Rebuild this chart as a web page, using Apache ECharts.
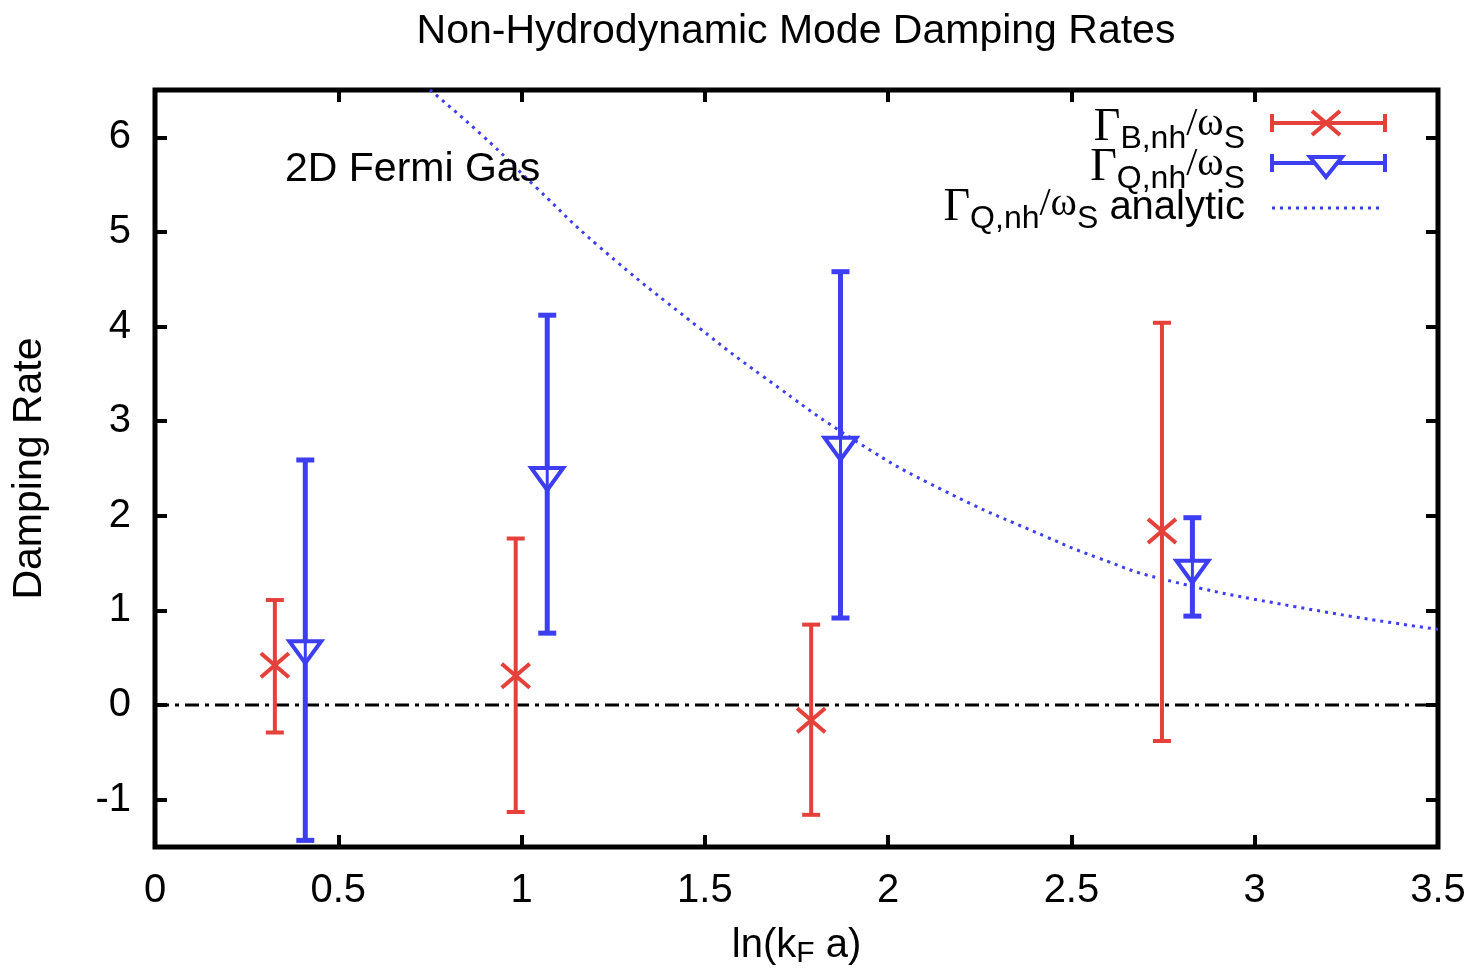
<!DOCTYPE html>
<html>
<head>
<meta charset="utf-8">
<title>Non-Hydrodynamic Mode Damping Rates</title>
<script src="https://cdn.jsdelivr.net/npm/echarts@6/dist/echarts.min.js"></script>
<style>
  html, body { margin: 0; padding: 0; background: #fff; }
  #main { width: 1478px; height: 975px; }
</style>
</head>
<body>
<div id="main"></div>
<script>
  // values: [x, y, yLow, yHigh]
  var gammaB = [
    [0.327, 0.42, -0.29, 1.11],
    [0.984, 0.31, -1.13, 1.76],
    [1.79, -0.16, -1.16, 0.85],
    [2.747, 1.84, -0.38, 4.04]
  ];
  var gammaQ = [
    [0.41, 0.58, -1.43, 2.59],
    [1.07, 2.41, 0.76, 4.12],
    [1.87, 2.73, 0.92, 4.58],
    [2.83, 1.43, 0.94, 1.98]
  ];
  // dotted analytic curve
  var analytic = [
    [0.75, 6.5], [0.89, 6.03], [1.04, 5.47], [1.21, 4.85], [1.48, 4.0],
    [1.66, 3.47], [1.92, 2.77], [2.15, 2.27], [2.43, 1.78], [2.57, 1.56],
    [2.74, 1.34], [3.11, 1.04], [3.5, 0.8]
  ];
  var zeroLine = [[0, 0], [3.5, 0]];
  var xTicks = [0, 0.5, 1, 1.5, 2, 2.5, 3, 3.5];
  var yTicks = [-1, 0, 1, 2, 3, 4, 5, 6];

  var RED = '#e6403b';
  var BLUE = '#3d3df2';
  var SANS = '"Liberation Sans", Arial, sans-serif';
  var SERIF = '"Liberation Serif", "Times New Roman", serif';

  function errorBars(color, marker) {
    return function (params, api) {
      var x = api.value(0);
      var p = api.coord([x, api.value(1)]);
      var lo = api.coord([x, api.value(2)]);
      var hi = api.coord([x, api.value(3)]);
      var st = { stroke: color, lineWidth: marker == 'tri' ? 5 : 4, fill: null };
      var cap = 9;
      var kids = [
        { type: 'line', shape: { x1: p[0], y1: hi[1], x2: p[0], y2: lo[1] }, style: st },
        { type: 'line', shape: { x1: p[0] - cap, y1: hi[1], x2: p[0] + cap, y2: hi[1] }, style: st },
        { type: 'line', shape: { x1: p[0] - cap, y1: lo[1], x2: p[0] + cap, y2: lo[1] }, style: st }
      ];
      if (marker == 'x') {
        var ms = { stroke: color, lineWidth: 4 };
        kids.push({ type: 'line', shape: { x1: p[0] - 14, y1: p[1] - 12, x2: p[0] + 14, y2: p[1] + 12 }, style: ms });
        kids.push({ type: 'line', shape: { x1: p[0] - 14, y1: p[1] + 12, x2: p[0] + 14, y2: p[1] - 12 }, style: ms });
      } else {
        kids.push({
          type: 'polygon',
          shape: { points: [[p[0] - 16, p[1] - 9], [p[0] + 16, p[1] - 9], [p[0], p[1] + 13]] },
          style: { stroke: color, lineWidth: 4, fill: '#fff' }
        });
        kids.push({ type: 'line', shape: { x1: p[0], y1: p[1] - 9, x2: p[0], y2: p[1] + 13 }, style: { stroke: color, lineWidth: 3 } });
      }
      return { type: 'group', children: kids };
    };
  }

  var labelFont = { fontFamily: SANS, fontSize: 40, color: '#000' };

  function xAx(pos, showLabel) {
    return {
      type: 'value', position: pos, min: 0, max: 3.5, interval: 0.5,
      axisLine: { show: false, onZero: false }, splitLine: { show: false },
      axisTick: { show: true, inside: true, length: 12, customValues: xTicks, lineStyle: { color: '#000', width: 4 } },
      axisLabel: Object.assign({ show: showLabel, margin: 24, customValues: xTicks }, labelFont),
      name: showLabel ? 'ln(k{s|F} a)' : '', nameLocation: 'middle', nameGap: 76,
      nameTextStyle: {
        fontFamily: SANS, fontSize: 40, color: '#000', verticalAlign: 'top',
        rich: { s: { fontFamily: SANS, fontSize: 30, color: '#000', padding: [16, 0, 0, 0] } }
      }
    };
  }
  function yAx(pos, showLabel) {
    return {
      type: 'value', position: pos, min: -1.5, max: 6.5,
      axisLine: { show: false, onZero: false }, splitLine: { show: false },
      axisTick: { show: true, inside: true, length: 12, customValues: yTicks, lineStyle: { color: '#000', width: 4 } },
      axisLabel: Object.assign({ show: showLabel, margin: 24, customValues: yTicks }, labelFont),
      name: showLabel ? 'Damping Rate' : '', nameLocation: 'middle', nameGap: 105,
      nameTextStyle: { fontFamily: SANS, fontSize: 41, color: '#000' }
    };
  }

  // legend texts built as rich strings
  var legRich = {
    g: { fontFamily: SERIF, fontSize: 46, color: '#000' },
    t: { fontFamily: SANS, fontSize: 40, color: '#000' },
    w: { fontFamily: SERIF, fontSize: 40, color: '#000', padding: [0, 0, 8, 0] },
    s: { fontFamily: SANS, fontSize: 32, color: '#000', padding: [22, 0, 0, 0] }
  };
  var legendRows = [
    { text: '{g|Γ}{s|B,nh}{w|/ω}{s|S}', y: 128, color: RED, kind: 'x' },
    { text: '{g|Γ}{s|Q,nh}{w|/ω}{s|S}', y: 168, color: BLUE, kind: 'tri' },
    { text: '{g|Γ}{s|Q,nh}{w|/ω}{s|S}{t| analytic}', y: 208, color: BLUE, kind: 'dot' }
  ];
  var graphics = [
    { type: 'text', x: 796, y: 32, style: { text: 'Non-Hydrodynamic Mode Damping Rates', fontFamily: SANS, fontSize: 41, fill: '#000', align: 'center', verticalAlign: 'middle' } },
    { type: 'text', x: 285, y: 170, style: { text: '2D Fermi Gas', fontFamily: SANS, fontSize: 41, fill: '#000', verticalAlign: 'middle' }, z: 10 }
  ];
  legendRows.forEach(function (r) {
    graphics.push({ type: 'text', x: 1245, y: r.y, z: 10, style: { text: r.text, rich: legRich, align: 'right', verticalAlign: 'middle' } });
    if (r.kind == 'dot') {
      graphics.push({ type: 'line', z: 10, shape: { x1: 1272, y1: r.y, x2: 1382, y2: r.y }, style: { stroke: r.color, lineWidth: 3, lineDash: [3, 5] } });
    } else {
      var st = { stroke: r.color, lineWidth: 4 };
      graphics.push({ type: 'line', z: 10, shape: { x1: 1272, y1: r.y - 5, x2: 1385, y2: r.y - 5 }, style: st });
      graphics.push({ type: 'line', z: 10, shape: { x1: 1272, y1: r.y - 14, x2: 1272, y2: r.y + 4 }, style: st });
      graphics.push({ type: 'line', z: 10, shape: { x1: 1385, y1: r.y - 14, x2: 1385, y2: r.y + 4 }, style: st });
      var cx = 1326, cy = r.y - 5;
      if (r.kind == 'x') {
        graphics.push({ type: 'line', z: 10, shape: { x1: cx - 14, y1: cy - 12, x2: cx + 14, y2: cy + 12 }, style: st });
        graphics.push({ type: 'line', z: 10, shape: { x1: cx - 14, y1: cy + 12, x2: cx + 14, y2: cy - 12 }, style: st });
      } else {
        graphics.push({ type: 'polygon', z: 10, shape: { points: [[cx - 16, cy - 6], [cx + 16, cy - 6], [cx, cy + 14]] }, style: { stroke: r.color, lineWidth: 4, fill: '#fff' } });
      }
    }
  });

  var chart = echarts.init(document.getElementById('main'));
  chart.setOption({
    animation: false,
    backgroundColor: '#fff',
    grid: { left: 155, right: 40, top: 90, bottom: 128, show: true, borderColor: '#000', borderWidth: 5, backgroundColor: 'transparent' },
    xAxis: [xAx('bottom', true), xAx('top', false)],
    yAxis: [yAx('left', true), yAx('right', false)],
    graphic: graphics,
    series: [
      {
        type: 'line', data: zeroLine, symbol: 'none', z: 2,
        lineStyle: { color: '#000', width: 3, type: [14, 6, 4, 6] }
      },
      {
        type: 'line', data: analytic, symbol: 'none', smooth: true, z: 3,
        lineStyle: { color: BLUE, width: 3, type: [3, 5] }
      },
      {
        type: 'custom', data: gammaB, renderItem: errorBars(RED, 'x'), z: 4,
        encode: { x: 0, y: [1, 2, 3] }
      },
      {
        type: 'custom', data: gammaQ, renderItem: errorBars(BLUE, 'tri'), z: 5,
        encode: { x: 0, y: [1, 2, 3] }
      }
    ]
  });
</script>
</body>
</html>
